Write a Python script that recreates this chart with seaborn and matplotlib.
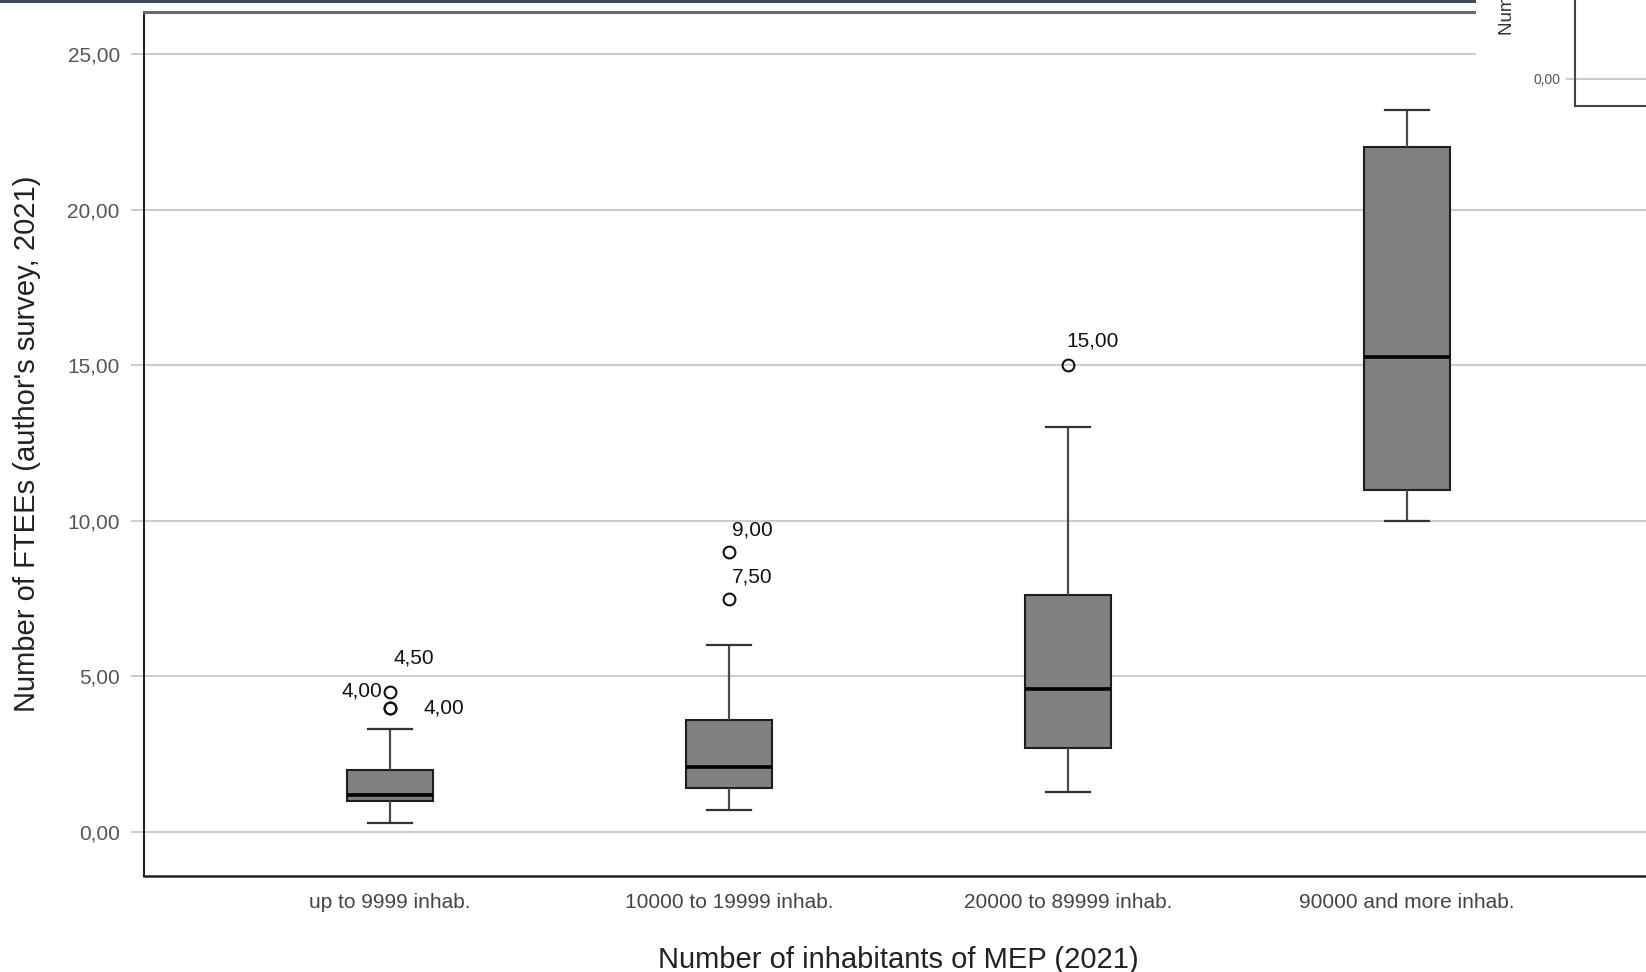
import numpy as np
import pandas as pd
import matplotlib
matplotlib.use("Agg")
import matplotlib.pyplot as plt
import seaborn as sns
from matplotlib.patches import Rectangle
from matplotlib.ticker import FixedLocator, FuncFormatter

# ---------------- data ----------------
categories = ["up to 9999 inhab.", "10000 to 19999 inhab.",
              "20000 to 89999 inhab.", "90000 and more inhab."]
ftees_up_to_9999 = [0.3, 0.5, 0.8, 1.0, 1.0, 1.0, 1.1, 1.2, 1.2, 1.5, 1.8,
                    2.0, 2.0, 3.3, 4.0, 4.0, 4.5]
ftees_10000_19999 = [0.7, 0.9, 1.0, 1.2, 1.4, 1.6, 1.8, 2.0, 2.1, 2.4, 2.8,
                     3.2, 3.6, 4.5, 6.0, 7.5, 9.0]
ftees_20000_89999 = [1.3, 1.8, 2.2, 2.7, 3.3, 4.0, 4.6, 5.5, 6.5, 7.6, 10.0,
                     13.0, 15.0]
ftees_90000_plus = [10.0, 10.5, 11.0, 13.0, 15.25, 18.0, 22.0, 22.5, 23.2]
y_ticks = [0, 5, 10, 15, 20, 25]
# outliers that carry a value label: (category index, value)
outlier_points = [(0, 4.5), (0, 4.0), (0, 4.0), (1, 9.0), (1, 7.5), (2, 15.0)]
x_label = "Number of inhabitants of MEP (2021)"
y_label = "Number of FTEEs (author's survey, 2021)"

# ---------------- styling ----------------
label_offsets = [(3, 34, "left"), (-8, 17, "right"), (33, 0, "left"),
                 (3, 22, "left"), (3, 22, "left"), (-2, 24, "left")]

plt.rcParams["font.family"] = ["Liberation Sans", "DejaVu Sans"]


def fmt(v, pos=None):
    return f"{v:.2f}".replace(".", ",")


groups = [ftees_up_to_9999, ftees_10000_19999, ftees_20000_89999, ftees_90000_plus]
df = pd.DataFrame({
    "group": np.concatenate([[c] * len(g) for c, g in zip(categories, groups)]),
    "ftees": np.concatenate(groups),
})

W, H = 1646, 972
fig = plt.figure(figsize=(W / 100, H / 100), dpi=100)
fig.patch.set_facecolor("white")
ax = fig.add_axes([144 / W, 96 / H, 1509 / W, 864 / H])

sns.boxplot(
    data=df, x="group", y="ftees", order=categories, ax=ax,
    color="#808080", saturation=1, width=0.254,
    linecolor="#1e1e1e", linewidth=1.5, fliersize=8.5,
    flierprops=dict(marker="o", markerfacecolor="none",
                    markeredgecolor="#111111", markeredgewidth=1.5),
    medianprops=dict(color="#000000", linewidth=2.6),
    whiskerprops=dict(color="#4a4a4a", linewidth=1.6),
    capprops=dict(color="#333333", linewidth=1.6),
)

ax.set_xlim(-0.7257, 3.7257)
ax.set_ylim(-1.414, 26.35)
ax.yaxis.set_major_locator(FixedLocator(y_ticks))
ax.yaxis.set_major_formatter(FuncFormatter(fmt))
ax.set_axisbelow(True)
ax.yaxis.grid(True, color="#cdcdcd", linewidth=1.5)
ax.xaxis.grid(False)

ax.tick_params(axis="y", length=9.4, width=1.5, color="#cdcdcd", pad=8,
               labelsize=15, labelcolor="#555555")
ax.tick_params(axis="x", length=0, pad=12, labelsize=15, labelcolor="#444444")

ax.set_xlabel(x_label, fontsize=21, color="#222222", labelpad=25)
ax.set_ylabel(y_label, fontsize=21, color="#222222", labelpad=19)

ax.spines["left"].set_color("#222222")
ax.spines["left"].set_linewidth(1.5)
ax.spines["bottom"].set_color("#222222")
ax.spines["bottom"].set_linewidth(1.8)
ax.spines["top"].set_color("#6a6a6a")
ax.spines["top"].set_linewidth(2.2)
ax.spines["right"].set_visible(False)

for (gi, val), (dx, dy, ha) in zip(outlier_points, label_offsets):
    ax.annotate(fmt(val), xy=(gi, val), xytext=(dx, dy),
                textcoords="offset pixels", ha=ha, va="center",
                fontsize=15, color="#111111")

# ---------------- screenshot decorations (top bar / overlapping window) ----------------
fig.patches.append(Rectangle((1476 / W, 1 - 108 / H), (W - 1476) / W, 108 / H,
                             transform=fig.transFigure, facecolor="white",
                             edgecolor="none", zorder=5))
fig.patches.append(Rectangle((0, 1 - 3 / H), 1476 / W, 3 / H,
                             transform=fig.transFigure, facecolor="#3e4a5e",
                             edgecolor="none", zorder=6))

inset = fig.add_axes([1575 / W, 1 - 106 / H, 0.1, 0.2], zorder=11)
inset.set_facecolor("white")
inset.set_xlim(0, 1)
inset.set_ylim(-1, 0.2 * H / 27 - 1)
inset.yaxis.set_major_locator(FixedLocator([0]))
inset.yaxis.set_major_formatter(FuncFormatter(fmt))
inset.set_xticks([])
inset.yaxis.grid(True, color="#cdcdcd", linewidth=1.5)
inset.set_axisbelow(True)
inset.tick_params(axis="y", length=6.5, width=1.5, color="#cdcdcd", pad=4,
                  labelsize=10, labelcolor="#555555")
for s in ("top", "right"):
    inset.spines[s].set_visible(False)
for s in ("left", "bottom"):
    inset.spines[s].set_color("#444444")
    inset.spines[s].set_linewidth(1.5)
fig.text(1507 / W, 1 - 35 / H, y_label, rotation=90, ha="center", va="bottom",
         fontsize=13.5, color="#333333", zorder=12)

fig.savefig("out.png", dpi=100)
